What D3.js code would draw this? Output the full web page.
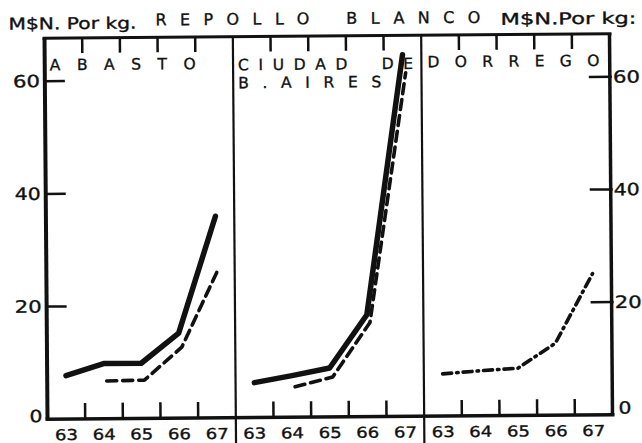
<!DOCTYPE html>
<html><head><meta charset="utf-8">
<script src="https://cdn.jsdelivr.net/npm/d3@7"></script>
<style>html,body{margin:0;padding:0;background:#fff;} svg{display:block} text{white-space:pre}</style>
</head><body>
<svg id="c" width="642" height="443"></svg>
<script>
// ---- data ----
const panels = ["ABASTO", "CIUDAD", "DORREGO"];
const panelTitles = [["ABASTO"], ["CIUDAD DE", "B.AIRES"], ["DORREGO"]];
const years = ["63", "64", "65", "66", "67"];
const yTicks = [0, 20, 40, 60];
const yTickLabels = ["0", "20", "40", "60"];
const title = "REPOLLO BLANCO";
const unitLeft = "M$N. Por kg.";
const unitRight = "M$N.Por kg:";

const abastoSolid  = [7.7, 9.8, 9.8, 15.1, 35.8];
const abastoDashed = [null, 6.7, 6.8, 12.6, 26.6];
const ciudadSolid  = [6.2, 7.4, 8.7, 18.1, 64.2];
const ciudadDashed = [null, 5.4, 7.1, 16.7, 61.0];
const dorregoDashDot = [7.5, 8.0, 8.4, 12.8, 25.1];

const series = [
  {panel: "ABASTO", values: abastoSolid, style: "solid"},
  {panel: "ABASTO", values: abastoDashed, style: "dash"},
  {panel: "CIUDAD", values: ciudadSolid, style: "solid"},
  {panel: "CIUDAD", values: ciudadDashed, style: "dash"},
  {panel: "DORREGO", values: dorregoDashDot, style: "dashdot"}
];

// ---- layout ----
const INK = "#111";
const FONT = "'DejaVu Sans', 'Liberation Sans', sans-serif";
const X0 = 46, X1 = 611, Y0 = 36, YB = 417;

const root = d3.select("#c");
// the scanned page is very slightly rotated
const svg = root.append("g").attr("transform", "rotate(-0.45, 328, 226)");

const y = d3.scaleLinear().domain([0, 60]).range([YB, 79]);
const px = d3.scaleBand().domain(panels).range([X0, X1]);
const bx = d3.scaleBand().domain(years).range([0, px.bandwidth()]);

function styleText(t, size) {
  return t.attr("font-family", FONT).attr("font-size", size).attr("fill", INK)
    .attr("stroke", INK).attr("stroke-width", 0.35);
}
function txt(parent, s, x, yy, size, len, anchor) {
  const t = styleText(parent.append("text"), size).attr("x", x).attr("y", yy)
    .attr("text-anchor", anchor || "start").text(s);
  if (len) t.attr("textLength", len).attr("lengthAdjust", "spacingAndGlyphs");
  return t;
}
// spaced-out lettering: letter-spacing chosen so the word spans `len` px
function spaced(parent, s, x, yy, size, len, wordExtra) {
  const t = styleText(parent.append("text"), size).attr("x", x).attr("y", yy).text(s);
  const natural = t.node().getComputedTextLength();
  const gaps = s.length - 1;
  const nSpaces = (s.match(/ /g) || []).length;
  const ls = (len - natural - nSpaces * (wordExtra || 0)) / gaps;
  t.attr("letter-spacing", ls);
  if (wordExtra) t.attr("word-spacing", wordExtra);
  return t;
}

txt(svg, unitLeft, 10, 27, 16, 128);
spaced(svg, title, 157, 24, 16, 325, 5);
txt(svg, unitRight, 502, 26, 16, 136);

// frame
const frame = svg.append("g").attr("stroke", INK).attr("fill", "none");
frame.append("line").attr("x1", X0 - 2).attr("x2", X1 + 2).attr("y1", Y0).attr("y2", Y0).attr("stroke-width", 3);
frame.append("line").attr("x1", X0 - 2).attr("x2", X1 + 2).attr("y1", YB).attr("y2", YB).attr("stroke-width", 3.5);
frame.append("line").attr("x1", X0).attr("x2", X0).attr("y1", Y0).attr("y2", YB).attr("stroke-width", 4);
frame.append("line").attr("x1", X1).attr("x2", X1).attr("y1", Y0).attr("y2", YB).attr("stroke-width", 3.5);
panels.slice(1).forEach(p => {
  frame.append("line").attr("x1", px(p)).attr("x2", px(p)).attr("y1", Y0).attr("y2", 445).attr("stroke-width", 2.2);
});

// y axes
const digitW = {"0": 13, "20": 27, "40": 26, "60": 27};
yTicks.forEach((v, i) => {
  if (v > 0) {
    frame.append("line").attr("x1", X0).attr("x2", X0 + 20).attr("y1", y(v)).attr("y2", y(v)).attr("stroke-width", 2.5);
    frame.append("line").attr("x1", X1 - 21).attr("x2", X1 + 2).attr("y1", y(v)).attr("y2", y(v)).attr("stroke-width", 2.5);
  }
  const lab = yTickLabels[i];
  txt(svg, lab, 41, y(v) + (v === 0 ? 3 : 6), 17, digitW[lab], "end");
  txt(svg, lab, X1 + (v === 0 ? 6 : 3), y(v) + (v === 0 ? -1 : 6), 17, digitW[lab], "start");
});

// panels
const titleLens = [[146], [175, 143], [172]];
panels.forEach((p, pi) => {
  const g = svg.append("g").attr("transform", `translate(${px(p)},0)`);
  years.slice(1).forEach(yr => {
    g.append("line").attr("x1", bx(yr)).attr("x2", bx(yr)).attr("y1", YB).attr("y2", YB - 16)
      .attr("stroke", INK).attr("stroke-width", 2.5);
    g.append("line").attr("x1", bx(yr)).attr("x2", bx(yr)).attr("y1", Y0).attr("y2", Y0 + 15)
      .attr("stroke", INK).attr("stroke-width", 2.5);
  });
  years.forEach(yr => {
    txt(g, yr, bx(yr) + bx.bandwidth() / 2, 438, 15, 23, "middle");
  });
  panelTitles[pi].forEach((s, li) => {
    spaced(g, s, pi === 2 ? 6 : 5, (pi === 1 ? 69.5 : 68) + li * 18, 15.5, titleLens[pi][li], pi === 1 ? 10 : 0);
  });
});

// lines
const styleOf = {
  solid:   {w: 5.5, dash: null, dx: 0},
  dash:    {w: 3.6, dash: "10,6", dx: 3},
  dashdot: {w: 3.6, dash: "9,5,1.5,5", dx: 0}
};
series.forEach(s => {
  const st = styleOf[s.style];
  const line = d3.line()
    .defined(d => d.v != null)
    .x(d => px(d.panel) + bx(d.yr) + bx.bandwidth() / 2 + st.dx)
    .y(d => y(d.v));
  const pts = years.map((yr, i) => ({panel: s.panel, yr, v: s.values[i]}));
  const path = svg.append("path").datum(pts).attr("d", line)
    .attr("fill", "none").attr("stroke", INK).attr("stroke-linejoin", "round")
    .attr("stroke-width", st.w).attr("stroke-linecap", "round");
  if (st.dash) path.attr("stroke-dasharray", st.dash);
});
</script>
</body></html>
